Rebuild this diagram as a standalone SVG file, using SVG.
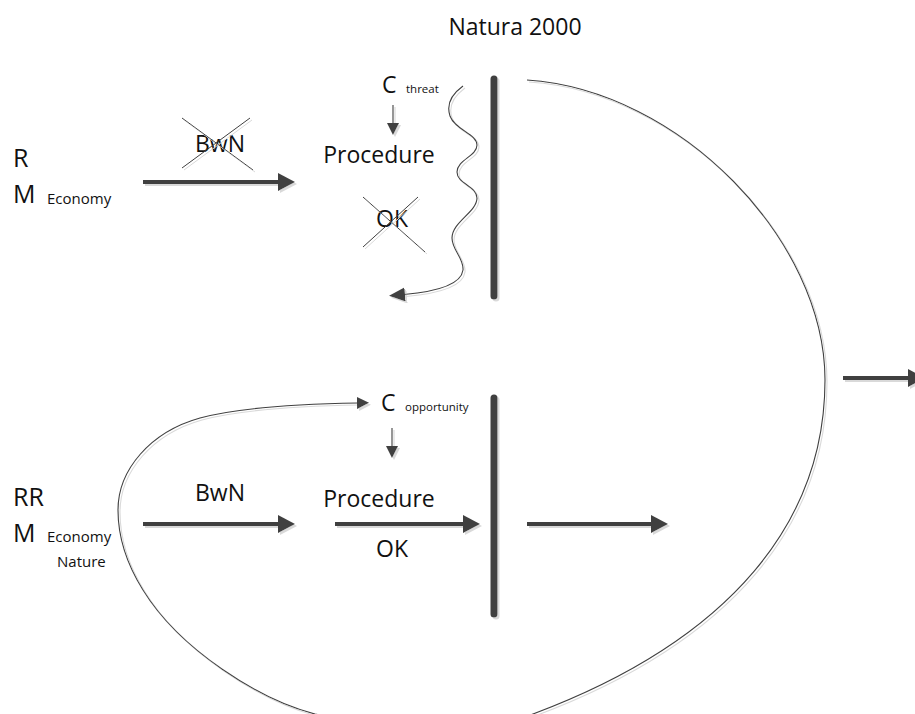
<svg xmlns="http://www.w3.org/2000/svg" width="915" height="714" viewBox="0 0 915 714">
  <style>
    text { font-family: "Open Sans", "Noto Sans", "Liberation Sans", sans-serif; fill: #111; }
    .lbl { font-size: 23px; }
    .big { font-size: 25px; }
    .sub { font-size: 15px; }
    .tiny { font-size: 11.5px; }
    .mid { text-anchor: middle; }
    .thick { stroke: #404040; stroke-width: 4; fill: none; marker-end: url(#headLg); }
    .thin { stroke: #404040; stroke-width: 1.1; fill: none; }
    .bar { stroke: #404040; stroke-width: 7; stroke-linecap: round; }
    .cross { stroke: #404040; stroke-width: 1; }
  </style>
  <defs>
    <filter id="shadow" filterUnits="userSpaceOnUse" x="0" y="0" width="915" height="714">
      <feFlood flood-color="#d9d9d9" result="c"/>
      <feComposite in="c" in2="SourceAlpha" operator="in" result="s"/>
      <feOffset in="s" dx="2" dy="2" result="so"/>
      <feMerge>
        <feMergeNode in="so"/>
        <feMergeNode in="SourceGraphic"/>
      </feMerge>
    </filter>
    <marker id="headLg" markerUnits="userSpaceOnUse" markerWidth="20" markerHeight="20" refX="3" refY="9" orient="auto">
      <path d="M0,0 L17,9 L0,18 z" fill="#404040"/>
    </marker>
    <marker id="headSm" markerUnits="userSpaceOnUse" markerWidth="14" markerHeight="14" refX="1" refY="6" orient="auto">
      <path d="M0,0 L12,6 L0,12 z" fill="#404040"/>
    </marker>
    <marker id="headMd" markerUnits="userSpaceOnUse" markerWidth="18" markerHeight="16" refX="1" refY="7" orient="auto">
      <path d="M0,0 L16,7 L0,14 z" fill="#404040"/>
    </marker>
  </defs>

  <rect width="915" height="714" fill="#fff"/>

  <!-- title -->
  <g id="title">
    <text class="lbl mid" x="515" y="35">Natura 2000</text>
  </g>

  <!-- upper row: R / M Economy -->
  <g id="actor-r">
    <text class="big" x="13" y="167">R</text>
    <text class="big" x="13" y="203">M</text>
    <text class="sub" x="47" y="204">Economy</text>
  </g>

  <g id="bwn-rejected">
    <text class="lbl mid" x="220" y="152">BwN</text>
    <g filter="url(#shadow)">
      <line class="cross" x1="182" y1="118" x2="253" y2="170"/>
      <line class="cross" x1="250" y1="118" x2="182" y2="168"/>
    </g>
  </g>

  <g id="c-threat">
    <text class="lbl" x="382" y="93">C</text>
    <text class="tiny" x="406" y="93">threat</text>
  </g>

  <g id="procedure-upper">
    <text class="lbl mid" x="379" y="163">Procedure</text>
  </g>

  <g id="ok-rejected">
    <text class="lbl mid" x="392" y="227">OK</text>
    <g filter="url(#shadow)">
      <line class="cross" x1="363" y1="197" x2="425" y2="252"/>
      <line class="cross" x1="418" y1="197" x2="363" y2="247"/>
    </g>
  </g>

  <g id="barrier-upper" filter="url(#shadow)">
    <line class="bar" x1="494" y1="79" x2="494" y2="296"/>
  </g>

  <!-- lower row: RR / M Economy Nature -->
  <g id="actor-rr">
    <text class="big" x="13" y="506">RR</text>
    <text class="big" x="13" y="542">M</text>
    <text class="sub" x="47" y="542">Economy</text>
    <text class="sub" x="57" y="567">Nature</text>
  </g>

  <g id="bwn-accepted">
    <text class="lbl mid" x="220" y="501">BwN</text>
  </g>

  <g id="c-opportunity">
    <text class="lbl" x="381" y="411">C</text>
    <text class="tiny" x="405" y="411">opportunity</text>
  </g>

  <g id="procedure-lower">
    <text class="lbl mid" x="379" y="507">Procedure</text>
    <text class="lbl mid" x="392" y="557">OK</text>
  </g>

  <g id="barrier-lower" filter="url(#shadow)">
    <line class="bar" x1="494" y1="398" x2="494" y2="614"/>
  </g>

  <!-- connectors -->
  <g id="connectors" filter="url(#shadow)">
    <!-- upper flow -->
    <line class="thick" x1="143" y1="182" x2="281" y2="182"/>
    <line class="thin" x1="393" y1="105" x2="393" y2="124" marker-end="url(#headSm)"/>
    <path class="thin" marker-end="url(#headMd)"
          d="M463,86 C452,94 446,104 450,116 C455,130 477,134 477,145 C477,156 457,160 457,172 C457,184 477,186 477,198 C477,212 452,222 452,238 C452,250 464,258 463,270 C461,286 432,292 404,294.5"/>

    <!-- lower flow -->
    <line class="thin" x1="392" y1="428" x2="392" y2="447" marker-end="url(#headSm)"/>
    <line class="thick" x1="143" y1="524" x2="281" y2="524"/>
    <line class="thick" x1="335" y1="524" x2="466" y2="524"/>
    <line class="thick" x1="527" y1="524" x2="654" y2="524"/>

    <!-- exit arrow on the right -->
    <line class="thick" x1="843" y1="378" x2="911" y2="378"/>

    <!-- feedback loop from the upper barrier back to C opportunity -->
    <path class="thin" marker-end="url(#headSm)"
          d="M527,80 C680,90 825,240 825,380 C825,520 733,639 533,714 C453,744 385,728 315,714 C260,700 180,650 143,590 C128,566 118,540 118,510 C118,470 150,432 200,418 C240,407 300,404 358,403"/>
  </g>
</svg>
